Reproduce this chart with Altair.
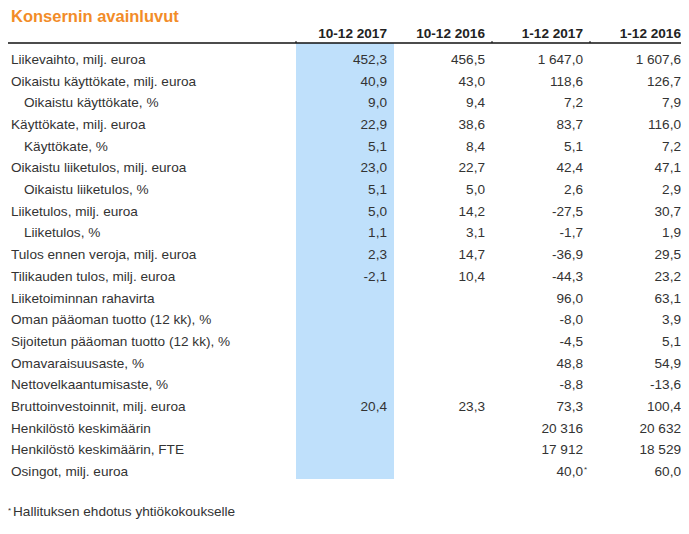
import altair as alt
import pandas as pd

title_text = "Konsernin avainluvut"
footnote_text = "Hallituksen ehdotus yhtiökokoukselle"

columns = ["10-12 2017", "10-12 2016", "1-12 2017", "1-12 2016"]

rows = [
    "Liikevaihto, milj. euroa",
    "Oikaistu käyttökate, milj. euroa",
    "Oikaistu käyttökate, %",
    "Käyttökate, milj. euroa",
    "Käyttökate, %",
    "Oikaistu liiketulos, milj. euroa",
    "Oikaistu liiketulos, %",
    "Liiketulos, milj. euroa",
    "Liiketulos, %",
    "Tulos ennen veroja, milj. euroa",
    "Tilikauden tulos, milj. euroa",
    "Liiketoiminnan rahavirta",
    "Oman pääoman tuotto (12 kk), %",
    "Sijoitetun pääoman tuotto (12 kk), %",
    "Omavaraisuusaste, %",
    "Nettovelkaantumisaste, %",
    "Bruttoinvestoinnit, milj. euroa",
    "Henkilöstö keskimäärin",
    "Henkilöstö keskimäärin, FTE",
    "Osingot, milj. euroa",
]

indent = [0, 0, 1, 0, 1, 0, 1, 0, 1, 0, 0, 0, 0, 0, 0, 0, 0, 0, 0, 0]

q4_2017 = ["452,3", "40,9", "9,0", "22,9", "5,1", "23,0", "5,1", "5,0", "1,1", "2,3", "-2,1",
           "", "", "", "", "", "20,4", "", "", ""]
q4_2016 = ["456,5", "43,0", "9,4", "38,6", "8,4", "22,7", "5,0", "14,2", "3,1", "14,7", "10,4",
           "", "", "", "", "", "23,3", "", "", ""]
y_2017 = ["1 647,0", "118,6", "7,2", "83,7", "5,1", "42,4", "2,6", "-27,5", "-1,7", "-36,9", "-44,3",
          "96,0", "-8,0", "-4,5", "48,8", "-8,8", "73,3", "20 316", "17 912", "40,0"]
y_2016 = ["1 607,6", "126,7", "7,9", "116,0", "7,2", "47,1", "2,9", "30,7", "1,9", "29,5", "23,2",
          "63,1", "3,9", "5,1", "54,9", "-13,6", "100,4", "20 632", "18 529", "60,0"]

# footnote markers: (row, column)
notes = [("Osingot, milj. euroa", "1-12 2017")]

FONT = "Liberation Sans"
TXT = "#333333"
FS = 13.6

series = [q4_2017, q4_2016, y_2017, y_2016]
vals = []
for c, s in zip(columns, series):
    for r, v in zip(rows, s):
        if v != "":
            vals.append({"row": r, "col": c, "value": v})
values_df = pd.DataFrame(vals)
labels_df = pd.DataFrame({"row": rows, "indent": indent})
cols_df = pd.DataFrame({"col": columns})
notes_df = pd.DataFrame([{"row": r, "col": c, "mark": "*"} for r, c in notes])

xcol = alt.Scale(type="band", domain=columns, range=[288, 680], paddingInner=0, paddingOuter=0)
yrow = alt.Scale(type="point", domain=rows, range=[56, 468], padding=0)

band = alt.Chart(pd.DataFrame({"col": [columns[0]]})).mark_rect(color="#BFE0FB").encode(
    x=alt.X("col:N", scale=xcol, axis=None),
    y=alt.value(35), y2=alt.value(471),
)

rule = alt.Chart(pd.DataFrame({"a": [0]})).mark_rule(color="#111111", strokeWidth=1.5).encode(
    x=alt.value(-3), x2=alt.value(681), y=alt.value(35),
)

ticks = alt.Chart(pd.DataFrame({"col": [columns[0], columns[2], columns[3]]})).mark_rule(
    color="#111111", strokeWidth=1
).encode(
    x=alt.X("col:N", scale=xcol, axis=None, bandPosition=0),
    y=alt.value(33), y2=alt.value(35),
)

title = alt.Chart(pd.DataFrame({"t": [title_text]})).mark_text(
    font=FONT, fontSize=16.5, fontWeight="bold", color="#F28C28", align="left", baseline="alphabetic"
).encode(x=alt.value(3), y=alt.value(14), text="t:N")

header = alt.Chart(cols_df).mark_text(
    font=FONT, fontSize=FS, fontWeight="bold", color="#222222", align="right", baseline="alphabetic", dx=-7
).encode(
    x=alt.X("col:N", scale=xcol, axis=None, bandPosition=1),
    y=alt.value(30),
    text="col:N",
)

labels = alt.Chart(labels_df).mark_text(
    font=FONT, fontSize=FS, color=TXT, align="left", baseline="alphabetic"
).encode(
    x=alt.X("indent:Q", scale=alt.Scale(domain=[0, 1], range=[3, 16]), axis=None),
    y=alt.Y("row:N", scale=yrow, axis=None),
    text="row:N",
)

values = alt.Chart(values_df).mark_text(
    font=FONT, fontSize=FS, color=TXT, align="right", baseline="alphabetic", dx=-7
).encode(
    x=alt.X("col:N", scale=xcol, axis=None, bandPosition=1),
    y=alt.Y("row:N", scale=yrow, axis=None),
    text="value:N",
)

note_marks = alt.Chart(notes_df).mark_text(
    font=FONT, fontSize=8, color=TXT, align="left", baseline="alphabetic", dx=-6, dy=-4
).encode(
    x=alt.X("col:N", scale=xcol, axis=None, bandPosition=1),
    y=alt.Y("row:N", scale=yrow, axis=None),
    text="mark:N",
)

foot_star = alt.Chart(pd.DataFrame({"t": ["*"]})).mark_text(
    font=FONT, fontSize=8, color=TXT, align="left", baseline="alphabetic"
).encode(x=alt.value(0), y=alt.value(505), text="t:N")

foot = alt.Chart(pd.DataFrame({"t": [footnote_text]})).mark_text(
    font=FONT, fontSize=FS, color=TXT, align="left", baseline="alphabetic"
).encode(x=alt.value(5), y=alt.value(508), text="t:N")

chart = alt.layer(
    band, rule, ticks, title, header, labels, values, note_marks, foot_star, foot
).resolve_scale(x="independent", y="independent").properties(
    width=673, height=512, padding=0, autosize=alt.AutoSizeParams(type="none")
).configure_view(stroke=None)

chart.save("out.html", embed_options={"renderer": "svg", "actions": False})
